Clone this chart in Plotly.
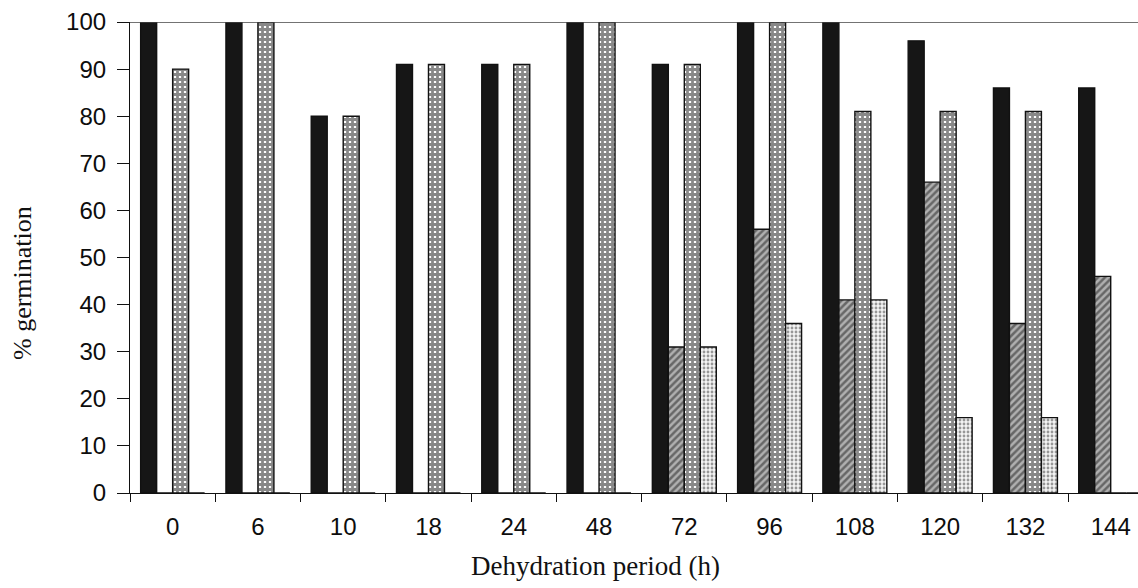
import plotly.graph_objects as go

# Dehydration period (h) on the category axis
periods = ["0", "6", "10", "18", "24", "48", "72", "96", "108", "120", "132", "144"]

# % germination for the four seed treatments
series_solid = [100, 100, 80, 91, 91, 100, 91, 100, 100, 96, 86, 86]
series_hatched = [0, 0, 0, 0, 0, 0, 31, 56, 41, 66, 36, 46]
series_checked = [90, 100, 80, 91, 91, 100, 91, 100, 81, 81, 81, 0]
series_dotted = [0, 0, 0, 0, 0, 0, 31, 36, 41, 16, 16, 0]

y_ticks = [0, 10, 20, 30, 40, 50, 60, 70, 80, 90, 100]

outline = dict(color="#111111", width=1.4)

fig = go.Figure()
fig.add_trace(go.Bar(
    x=periods, y=series_solid, name="Series A",
    marker=dict(color="#161616", line=outline),
))
fig.add_trace(go.Bar(
    x=periods, y=series_hatched, name="Series B",
    marker=dict(color="white", line=outline,
                pattern=dict(shape="/", fgcolor="#1e1e1e", bgcolor="#b0b0b0",
                             size=5, solidity=0.5)),
))
fig.add_trace(go.Bar(
    x=periods, y=series_checked, name="Series C",
    marker=dict(color="white", line=outline,
                pattern=dict(shape="+", fgcolor="#111111", bgcolor="white",
                             size=5, solidity=0.8)),
))
fig.add_trace(go.Bar(
    x=periods, y=series_dotted, name="Series D",
    marker=dict(color="white", line=outline,
                pattern=dict(shape=".", fgcolor="#3a3a3a", bgcolor="#f4f4f4",
                             size=4, solidity=0.4)),
))

tick_font = dict(family="Liberation Sans, Arial, sans-serif", size=24, color="#0d0d0d")
title_font = dict(family="Liberation Serif, Times New Roman, serif", size=27, color="#111111")

fig.update_layout(
    width=1138, height=588,
    margin=dict(l=130, r=0, t=22, b=95),
    paper_bgcolor="white", plot_bgcolor="white",
    barmode="group", bargap=0.25, bargroupgap=0,
    showlegend=False,
    xaxis=dict(
        type="category", range=[-0.5, 11.32],
        tickson="boundaries", ticks="outside", ticklen=8, tickwidth=1.2,
        tickcolor="#111111",
        showline=True, linecolor="#111111", linewidth=1.2,
        showgrid=False, zeroline=False,
        tickfont=tick_font, ticklabelstandoff=12,
    ),
    yaxis=dict(
        range=[0, 100], tickvals=y_ticks,
        ticks="outside", ticklen=12, tickwidth=1.2, tickcolor="#111111",
        showline=True, linecolor="#111111", linewidth=1.2,
        showgrid=False, zeroline=False,
        tickfont=tick_font, ticklabelstandoff=6,
    ),
    shapes=[dict(type="line", xref="paper", yref="y", x0=0, x1=1, y0=100, y1=100,
                 line=dict(color="#444444", width=1.5))],
    annotations=[
        dict(text="Dehydration period (h)", xref="paper", yref="paper",
             x=(595 - 130) / 1008, y=-0.155, xanchor="center", yanchor="middle",
             showarrow=False, font=title_font),
        dict(text="% germination", xref="paper", yref="paper",
             x=(22 - 130) / 1008, y=(493 - 283) / 471, xanchor="center", yanchor="middle",
             textangle=-90, showarrow=False, font=dict(title_font, size=26)),
    ],
)

fig.write_html("out.html")
